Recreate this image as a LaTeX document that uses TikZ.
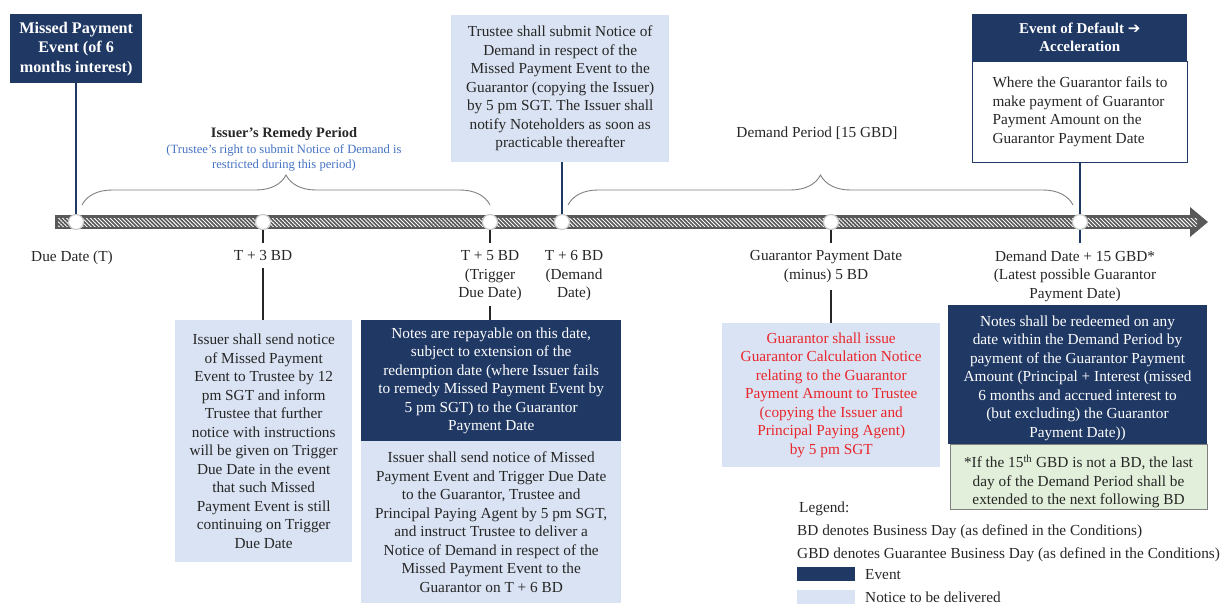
\documentclass[tikz,border=0pt]{standalone}
\usepackage{fontspec}
\setmainfont{Liberation Serif}
\newfontfamily\djv{DejaVu Sans}
\usetikzlibrary{patterns.meta,decorations.pathreplacing}
\definecolor{navy}{HTML}{1F3864}
\definecolor{lblue}{HTML}{DAE3F3}
\definecolor{lgreen}{HTML}{E2EFDA}
\definecolor{txt}{HTML}{262626}
\definecolor{redt}{HTML}{E8262B}
\definecolor{bluet}{HTML}{4472C4}
\definecolor{barg}{HTML}{595959}
\definecolor{braceg}{HTML}{7F7F7F}
\begin{document}
\begin{tikzpicture}[x=1pt,y=-1pt,
 every node/.style={font=\fontsize{15.3}{18.5}\selectfont, text=txt, inner sep=0pt, align=center},
 navybox/.style={fill=navy, text=white, anchor=north west},
 notebox/.style={fill=lblue, anchor=north west},
 dot/.style={circle, fill=white, draw=gray!40, line width=1.2pt, minimum size=15pt},
 blk/.style={draw=txt, line width=1.6pt},
 nvl/.style={draw=navy, line width=1.6pt},
 brc/.style={draw=braceg, line width=0.9pt, decorate, decoration={brace, amplitude=30pt}},
 bfnt/.style={font=\bfseries\fontsize{15}{18}\selectfont}
]
\useasboundingbox (0,0) rectangle (1222,603);

% timeline bar
\fill[barg] (55,215) rectangle (1192,229);
\fill[barg] (1190,207) -- (1208,222) -- (1190,237) -- cycle;
\fill[pattern={Lines[angle=-45,distance=2.8pt,line width=0.9pt]}, pattern color=white] (58,218) rectangle (1197,226);

% braces
\coordinate (br1a) at (82,205); \coordinate (br1b) at (490,205);
\coordinate (br2a) at (568,205); \coordinate (br2b) at (1073,205);
\draw[brc] (br1a) -- (br1b);
\draw[brc] (br2a) -- (br2b);

% period headings
\node[anchor=base, font=\bfseries\fontsize{14.4}{18}\selectfont] (irp) at (284,137) {Issuer’s Remedy Period};
\node[anchor=north, text=bluet, font=\fontsize{12.6}{15}\selectfont] (irps) at (284,144.5) {(Trustee’s right to submit Notice of Demand is\\restricted during this period)};
\node[anchor=base] (dp) at (817,137) {Demand Period [15 GBD]};

% timeline points
\node[dot] (c1) at (76,222) {};
\node[dot] (c2) at (263,222) {};
\node[dot] (c3) at (490,222) {};
\node[dot] (c4) at (562,222) {};
\node[dot] (c5) at (831,222) {};
\node[dot] (c6) at (1080,222) {};

% labels under the timeline
\node[anchor=north] (l1) at (72,250.5) {Due Date (T)};
\node[anchor=north] (l2) at (263,250.5) {T + 3 BD};
\node[anchor=north] (l3) at (490,250.5) {T + 5 BD\\(Trigger\\Due Date)};
\node[anchor=north] (l4) at (574,250.5) {T + 6 BD\\(Demand\\Date)};
\node[anchor=north] (l5) at (826,250.5) {Guarantor Payment Date\\(minus) 5 BD};
\node[anchor=north] (l6) at (1075,250.5) {Demand Date + 15 GBD*\\(Latest possible Guarantor\\Payment Date)};

% top boxes
\node[navybox, minimum width=132pt, minimum height=69pt, font=\bfseries\fontsize{16.2}{19.5}\selectfont] (mpe) at (10,14) {Missed Payment\\Event (of 6\\months interest)};
\node[notebox, minimum width=218pt, minimum height=147pt] (trn) at (451,15) {Trustee shall submit Notice of\\Demand in respect of the\\Missed Payment Event to the\\Guarantor (copying the Issuer)\\by 5 pm SGT. The Issuer shall\\notify Noteholders as soon as\\practicable thereafter};
\node[navybox, minimum width=215pt, minimum height=47pt, bfnt] (eodh) at (972,14) {Event of Default {\djv\bfseries ➔}\\Acceleration};
\node[draw=navy, line width=1pt, fill=white, anchor=north west, minimum width=215pt, minimum height=101pt, align=left] (eodb) at (972,61) {Where the Guarantor fails to\\make payment of Guarantor\\Payment Amount on the\\Guarantor Payment Date};

% bottom boxes
\node[notebox, minimum width=177pt, minimum height=242pt] (b2) at (175,320) {Issuer shall send notice\\of Missed Payment\\Event to Trustee by 12\\pm SGT and inform\\Trustee that further\\notice with instructions\\will be given on Trigger\\Due Date in the event\\that such Missed\\Payment Event is still\\continuing on Trigger\\Due Date};
\node[navybox, minimum width=260pt, minimum height=121pt] (b3a) at (361,320) {Notes are repayable on this date,\\subject to extension of the\\redemption date (where Issuer fails\\to remedy Missed Payment Event by\\5 pm SGT) to the Guarantor\\Payment Date};
\node[notebox, minimum width=260pt, minimum height=162pt] (b3b) at (361,441) {Issuer shall send notice of Missed\\Payment Event and Trigger Due Date\\to the Guarantor, Trustee and\\Principal Paying Agent by 5 pm SGT,\\and instruct Trustee to deliver a\\Notice of Demand in respect of the\\Missed Payment Event to the\\Guarantor on T + 6 BD};
\node[notebox, text=redt, minimum width=218pt, minimum height=144pt] (b5) at (722,323) {Guarantor shall issue\\Guarantor Calculation Notice\\relating to the Guarantor\\Payment Amount to Trustee\\(copying the Issuer and\\Principal Paying Agent)\\by 5 pm SGT};
\node[navybox, minimum width=259pt, minimum height=139pt] (b6) at (948,305) {};
\node[text=white] (b6t) at (1077.5,378) {Notes shall be redeemed on any\\date within the Demand Period by\\payment of the Guarantor Payment\\Amount (Principal + Interest (missed\\6 months and accrued interest to\\(but excluding) the Guarantor\\Payment Date))};
\node[fill=lgreen, draw=gray, line width=1pt, anchor=north west, minimum width=257pt, minimum height=65pt] (b7) at (950,444) {};
\node (b7t) at (1078.5,481.5) {*If the 15\textsuperscript{th} GBD is not a BD, the last\\day of the Demand Period shall be\\extended to the next following BD};

% connectors
\coordinate (t3a) at (263,243); \coordinate (t3b) at (263,268);
\coordinate (t5a) at (490,243); \coordinate (t5b) at (490,306);
\coordinate (g5a) at (831,243); \coordinate (g5b) at (831,290);
\coordinate (d15a) at (1080,243);
\draw[nvl] (mpe.south -| c1) -- (c1.north);
\draw[blk] (c2.south) -- (t3a);
\draw[blk] (t3b) -- (t3b |- b2.north);
\draw[blk] (c3.south) -- (t5a);
\draw[blk] (t5b) -- (t5b |- b3a.north);
\draw[nvl] (c4.north |- trn.south) -- (c4.north);
\draw[blk] (c5.south) -- (g5a);
\draw[blk] (g5b) -- (g5b |- b5.north);
\draw[nvl] (eodb.south -| c6) -- (c6.north);
\draw[nvl] (c6.south) -- (d15a);

% legend
\node[anchor=base west] (lg) at (799,512) {Legend:};
\node[anchor=base west] (lg1) at (797,535) {BD denotes Business Day (as defined in the Conditions)};
\node[anchor=base west] (lg2) at (797,558) {GBD denotes Guarantee Business Day (as defined in the Conditions)};
\node[fill=navy, anchor=north west, minimum width=58pt, minimum height=14pt] (lgk1) at (797,567) {};
\node[anchor=base west] (lge) at (865,579) {Event};
\node[fill=lblue, anchor=north west, minimum width=58pt, minimum height=14pt] (lgk2) at (797,590) {};
\node[anchor=base west] (lgn) at (865,602) {Notice to be delivered};
\end{tikzpicture}
\end{document}
